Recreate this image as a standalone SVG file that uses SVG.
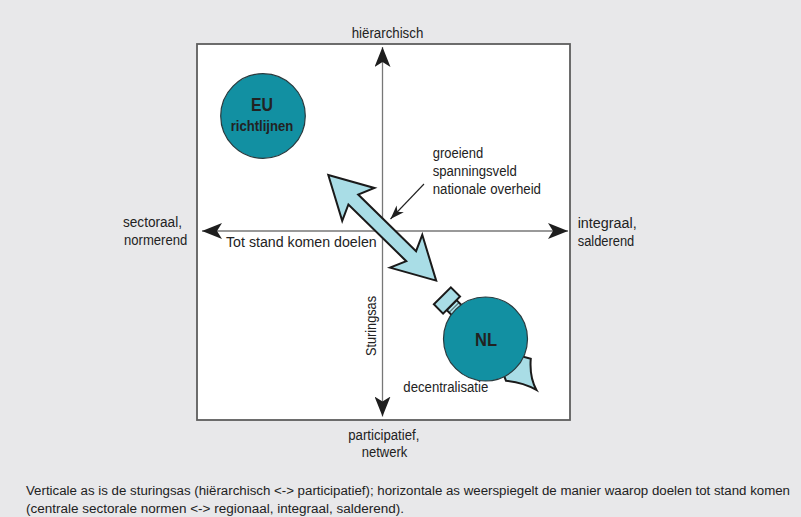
<svg xmlns="http://www.w3.org/2000/svg" width="801" height="517" viewBox="0 0 801 517">
<defs>
<style>
text{font-family:"Liberation Sans",Arial,sans-serif;fill:#222;}
.lbl{font-size:14px;}
.cap{font-size:12.3px;}
.bold{font-weight:bold;text-anchor:middle;}
.axis{stroke:#777;stroke-width:1.3;fill:none;}
.thin{stroke:#222;stroke-width:1.1;fill:none;}
.lb{fill:#a9dde6;stroke:#1a1a1a;stroke-width:2;stroke-linejoin:miter;}
.teal{fill:#1290a2;stroke:#2a3a3e;stroke-width:1.2;}
</style>
<marker id="ah" viewBox="0 0 20 16" refX="20" refY="8" markerWidth="20" markerHeight="16" markerUnits="userSpaceOnUse" orient="auto">
<path d="M0,0 L20,8 L0,16 L5,8 Z" fill="#1e1e1e"/>
</marker>
<marker id="sh" viewBox="0 0 14 10" refX="14" refY="5" markerWidth="14" markerHeight="10" markerUnits="userSpaceOnUse" orient="auto">
<path d="M0,0 L14,5 L0,10 L4,5 Z" fill="#1e1e1e"/>
</marker>
</defs>
<rect x="0" y="0" width="801" height="517" fill="#e8e8ea"/>
<rect id="frame" x="197" y="44" width="373" height="376" fill="#ffffff" stroke="#5e5e5e" stroke-width="1.8"/>

<g id="connectors">
<line class="axis" x1="382.5" y1="231" x2="382.5" y2="47" marker-end="url(#ah)"/>
<line class="axis" x1="382.5" y1="231" x2="382.5" y2="416.5" marker-end="url(#ah)"/>
<line class="axis" x1="382.5" y1="231" x2="202" y2="231" marker-end="url(#ah)"/>
<line class="axis" x1="382.5" y1="231" x2="568" y2="231" marker-end="url(#ah)"/>
<line class="thin" x1="424" y1="184" x2="390.5" y2="219" marker-end="url(#sh)"/>
</g>

<g id="eu">
<circle class="teal" cx="263" cy="116" r="42.3"/>
<text class="bold" x="262" y="111" font-size="19" textLength="22" lengthAdjust="spacingAndGlyphs">EU</text>
<text class="bold" x="262" y="130.7" font-size="14" textLength="62.6" lengthAdjust="spacingAndGlyphs">richtlijnen</text>
</g>

<g id="nl">
<g transform="translate(485.5,339) rotate(-135)">
<rect class="lb" x="40" y="-7" width="8" height="14" stroke-width="1.2"/>
<line x1="44.5" y1="-7" x2="44.5" y2="7" stroke="#1a1a1a" stroke-width="0.8"/>
<rect class="lb" x="48" y="-12" width="13" height="24" stroke-width="1.2"/>
</g>
<g transform="translate(485.5,339) rotate(45)">
<path class="lb" stroke-width="1.2" d="M30,-9 L46,-18 Q58,-4 72,0 Q57,4 44,15 L30,9 Z"/>
</g>
<circle class="teal" cx="485.5" cy="339" r="42"/>
<text class="bold" x="486" y="345.5" font-size="18" textLength="22" lengthAdjust="spacingAndGlyphs">NL</text>
</g>

<g id="spanningsveld-arrow">
<path class="lb" transform="translate(328.3,175) rotate(44.4)" d="M0,0 L42,-23 L35,-7 L116,-7 L109,-23 L151,0 L109,23 L116,7 L35,7 L42,23 Z"/>
</g>

<g id="labels">
<text class="lbl" x="351.7" y="38" textLength="71.6" lengthAdjust="spacingAndGlyphs">hiërarchisch</text>
<text class="lbl" x="123" y="226.7" textLength="59" lengthAdjust="spacingAndGlyphs">sectoraal,</text>
<text class="lbl" x="124" y="245" textLength="63.3" lengthAdjust="spacingAndGlyphs">normerend</text>
<text class="lbl" x="226" y="246.7" textLength="150.7" lengthAdjust="spacingAndGlyphs">Tot stand komen doelen</text>
<text class="lbl" x="577.7" y="227.7" textLength="59" lengthAdjust="spacingAndGlyphs">integraal,</text>
<text class="lbl" x="577.7" y="246" textLength="56.6" lengthAdjust="spacingAndGlyphs">salderend</text>
<text class="lbl" x="348.3" y="440" textLength="71" lengthAdjust="spacingAndGlyphs">participatief,</text>
<text class="lbl" x="361.7" y="456.7" textLength="45.6" lengthAdjust="spacingAndGlyphs">netwerk</text>
<text class="lbl" x="432.7" y="158" textLength="50.5" lengthAdjust="spacingAndGlyphs">groeiend</text>
<text class="lbl" x="432.7" y="176" textLength="84" lengthAdjust="spacingAndGlyphs">spanningsveld</text>
<text class="lbl" x="432.7" y="194.3" textLength="108.3" lengthAdjust="spacingAndGlyphs">nationale overheid</text>
<text class="lbl" transform="translate(375.5,356) rotate(-90)" x="0" y="0" textLength="60" lengthAdjust="spacingAndGlyphs">Sturingsas</text>
<text class="lbl" x="403.3" y="391.7" textLength="85" lengthAdjust="spacingAndGlyphs">decentralisatie</text>
</g>

<g id="caption">
<text class="cap" x="26" y="495" textLength="764" lengthAdjust="spacingAndGlyphs">Verticale as is de sturingsas (hiërarchisch &lt;-&gt; participatief); horizontale as weerspiegelt de manier waarop doelen tot stand komen</text>
<text class="cap" x="26" y="513" textLength="378" lengthAdjust="spacingAndGlyphs">(centrale sectorale normen &lt;-&gt; regionaal, integraal, salderend).</text>
</g>
</svg>
